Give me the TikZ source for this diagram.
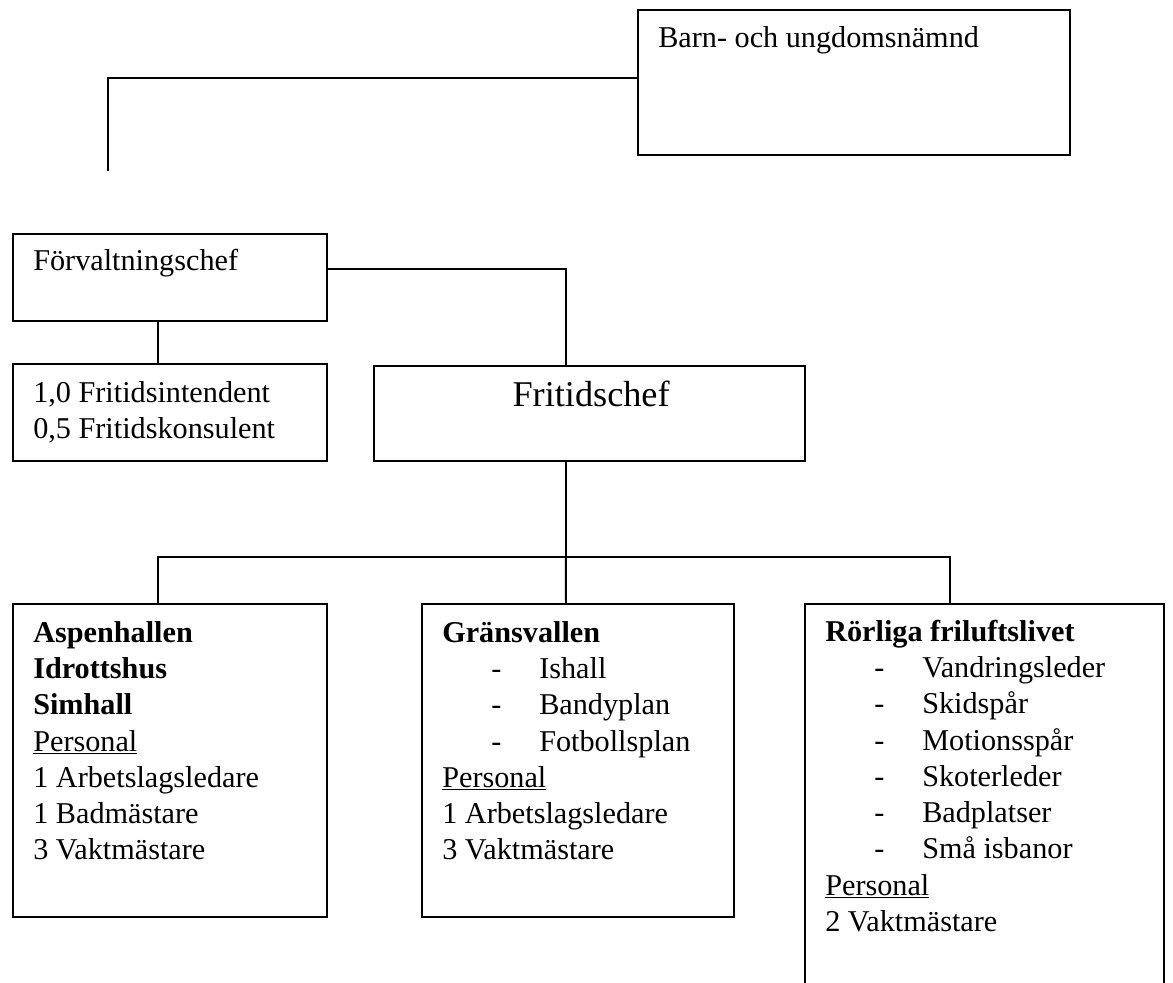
\documentclass[tikz,border=0pt]{standalone}
\usepackage{fontspec}
\setmainfont{Liberation Serif}
\tikzset{>=stealth}
\newcommand{\dashrow}[1]{\makebox[2.425cm][l]{\hspace*{1.225cm}-}#1}
\newcommand{\topstrut}{\rule{0pt}{0.95cm}}
\tikzset{
  box/.style={draw, line width=1.4pt, inner sep=0pt, anchor=north west},
  boxtext/.style={anchor=north west, inner sep=0pt, align=left, font=\fontsize{21.5}{25.8}\selectfont},
  link/.style={line width=1.4pt}
}

\begin{document}
\begin{tikzpicture}
	\useasboundingbox (0,0) rectangle (29.325,-24.575);
	\clip (0,0) rectangle (29.325,-24.575);
	% boxes
	\node[box, minimum width=10.8cm, minimum height=3.625cm] (barn) at (15.925,-0.225) {};
	\node[box, minimum width=7.85cm, minimum height=2.175cm] (forv) at (0.3,-5.825) {};
	\node[box, minimum width=7.85cm, minimum height=2.425cm] (intend) at (0.3,-9.075) {};
	\node[box, minimum width=10.775cm, minimum height=2.375cm] (frit) at (9.325,-9.125) {};
	\node[box, minimum width=7.85cm, minimum height=7.825cm] (aspen) at (0.3,-15.075) {};
	\node[box, minimum width=7.8cm, minimum height=7.825cm] (grans) at (10.525,-15.075) {};
	\node[box, minimum width=8.975cm, minimum height=10cm] (rorl) at (20.1,-15.075) {};
	% texts
	\node[boxtext] (barntxt) at ([xshift=0.525cm]barn.north west) {\topstrut Barn- och ungdomsnämnd};
	\node[boxtext] (forvtxt) at ([shift={(0.525,0.025)}]forv.north west) {\topstrut Förvaltningschef};
	\node[boxtext] (intendtxt) at ([shift={(0.525,-0.025)}]intend.north west) {\topstrut 1,0 Fritidsintendent\\0,5 Fritidskonsulent};
	\node[anchor=base, inner sep=0pt, font=\fontsize{25.8}{30}\selectfont] (frittxt) at ([shift={(0.04,-1.05)}]frit.north) {Fritidschef};
	\node[boxtext] (aspentxt) at ([shift={(0.525,-0.025)}]aspen.north west) {\topstrut\textbf{Aspenhallen}\\\textbf{Idrottshus}\\\textbf{Simhall}\\\underline{Personal}\\1 Arbetslagsledare\\1 Badmästare\\3 Vaktmästare};
	\node[boxtext] (granstxt) at ([shift={(0.525,-0.025)}]grans.north west) {\topstrut\textbf{Gränsvallen}\\\dashrow{Ishall}\\\dashrow{Bandyplan}\\\dashrow{Fotbollsplan}\\\underline{Personal}\\1 Arbetslagsledare\\3 Vaktmästare};
	\node[boxtext] (rorltxt) at ([xshift=0.525cm]rorl.north west) {\topstrut\textbf{Rörliga friluftslivet}\\\dashrow{Vandringsleder}\\\dashrow{Skidspår}\\\dashrow{Motionsspår}\\\dashrow{Skoterleder}\\\dashrow{Badplatser}\\\dashrow{Små isbanor}\\\underline{Personal}\\2 Vaktmästare};
	% connectors
	\coordinate (loose) at (2.7,-4.275);
	\draw[link] ([yshift=0.11cm]barn.west) -| (loose);
	\draw[link] ([yshift=0.21cm]forv.east) -| ([xshift=-0.59cm]frit.north);
	\draw[link] ([xshift=-0.3cm]forv.south) -- ([xshift=-0.3cm]intend.north);
	\draw[link] ([xshift=-0.59cm]frit.south) -- ++(0,-2.375) coordinate (bus);
	\draw[link] ([xshift=-0.3cm]aspen.north) |- (bus) -| ([xshift=-0.86cm]rorl.north);
	\draw[link] (bus) -- ([xshift=-0.3cm]grans.north);
\end{tikzpicture}
\end{document}
